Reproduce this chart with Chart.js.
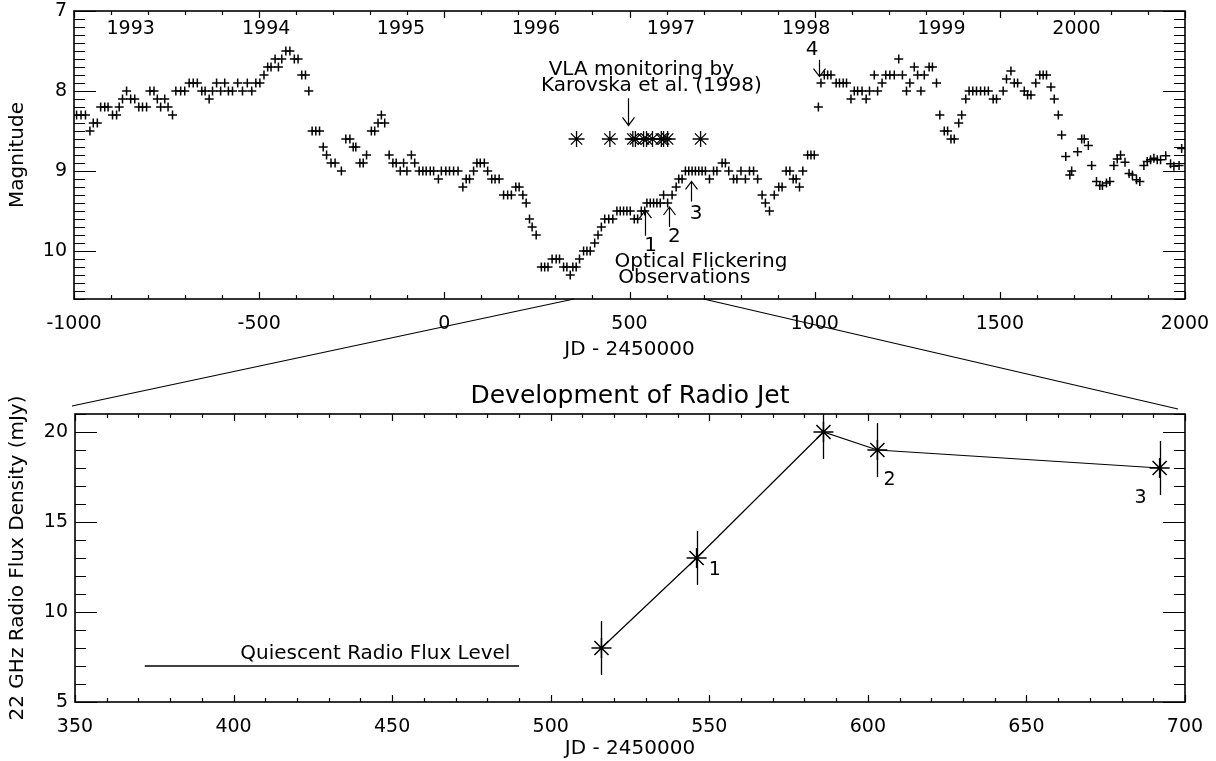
<!DOCTYPE html>
<html><head><meta charset="utf-8">
<script src="https://cdn.jsdelivr.net/npm/chart.js@4.4.1/dist/chart.umd.min.js"></script>
<style>
html,body{margin:0;padding:0;background:#fff;}
#wrap{position:relative;width:1216px;height:761px;overflow:hidden;background:#fff;}
canvas{position:absolute;left:0;}
</style></head><body>
<div id="wrap">
<canvas id="cTop" width="1216" height="365" style="top:0;width:1216px;height:365px"></canvas>
<canvas id="cBot" width="1216" height="396" style="top:365px;width:1216px;height:396px"></canvas>
<canvas id="cOv" width="1216" height="761" style="top:0;width:1216px;height:761px;pointer-events:none"></canvas>
</div>
<script>
// ---------------- DATA ----------------
// Optical light curve (JD - 2450000, magnitude)
const opticalJD = [
-993,-981,-969,-957,-948,-937,-928,-917,-908,-896,-885,-878,-869,-858,-847,-836,-825,-815,-804,-795,
-784,-775,-766,-755,-746,-734,-725,-712,-701,-689,-678,-667,-655,-646,-635,-626,-615,-604,-593,-583,
-572,-558,-545,-532,-520,-509,-498,-487,-477,-468,-457,-448,-439,-428,-417,-405,-395,-385,-375,-366,
-357,-347,-337,-327,-318,-306,-295,-278,-266,-255,-246,-239,-228,-219,-210,
-197,-188,-179,-170,-161,-149,-139,-130,-119,-110,-101,-89,-80,-68,-58,-49,-38,-29,-16,-8,
4,14,25,37,50,59,68,79,88,97,108,117,128,137,148,160,171,181,193,202,
212,221,230,237,248,262,271,280,291,302,311,322,331,340,347,356,365,376,385,394,
406,415,424,433,444,455,466,475,484,493,502,513,522,532,541,
547,556,565,574,583,592,603,615,626,633,642,651,660,669,678,687,696,705,716,727,
736,750,759,768,781,790,801,813,824,835,846,858,867,878,891,903,912,923,933,942,
950,959,968,981,990,999,1010,1017,1026,1035,1044,1058,1067,1077,1086,1098,1107,1116,1128,1139,
1148,1161,1170,1182,1192,1203,1215,1227,
1237,1248,1257,1269,1278,1287,1296,1309,1318,1329,1338,1350,1359,1368,1377,1389,1397,1408,1417,1427,
1437,1448,1459,1469,1482,1491,1509,1518,1530,1539,1548,1566,1575,1584,1597,1608,1617,1626,1638,1647,
1658,1667,1678,1689,1694,1710,1721,1728,1739,1748,1761,1770,1777,1788,1797,1808,1817,1826,1838,1849,
1858,1869,1878,1889,1898,1907,1916,1925,1934,1948,1961,1970,1984,1991];
const opticalMag = [
8.3,8.3,8.3,8.5,8.4,8.4,8.2,8.2,8.2,8.3,8.3,8.2,8.1,8.0,8.1,8.1,8.2,8.2,8.2,8.0,
8.0,8.1,8.2,8.1,8.2,8.3,8.0,8.0,8.0,7.9,7.9,7.9,8.0,8.0,8.1,8.0,7.9,8.0,7.9,8.0,
8.0,7.9,8.0,7.9,8.0,7.9,7.9,7.8,7.7,7.7,7.6,7.7,7.6,7.5,7.5,7.6,7.6,7.8,7.8,8.0,
8.5,8.5,8.5,8.7,8.8,8.9,8.9,9.0,8.6,8.6,8.7,8.7,8.9,8.9,8.8,
8.5,8.5,8.4,8.3,8.4,8.8,8.9,8.9,9.0,8.9,9.0,8.8,8.9,9.0,9.0,9.0,9.0,9.0,9.1,9.0,
9.0,9.0,9.0,9.0,9.2,9.1,9.1,9.0,8.9,8.9,8.9,9.0,9.1,9.1,9.1,9.3,9.3,9.3,9.2,9.2,
9.3,9.4,9.6,9.7,9.8,10.2,10.2,10.2,10.1,10.1,10.1,10.2,10.2,10.3,10.2,10.2,10.1,10.0,10.0,10.0,
9.9,9.8,9.7,9.6,9.6,9.6,9.5,9.5,9.5,9.5,9.5,9.6,9.6,9.5,9.5,
9.4,9.4,9.4,9.4,9.4,9.3,9.4,9.3,9.2,9.1,9.1,9.0,9.0,9.0,9.0,9.0,9.0,9.0,9.1,9.0,
9.0,8.9,8.9,9.0,9.1,9.1,9.0,9.1,9.0,9.0,9.1,9.3,9.4,9.5,9.3,9.2,9.2,9.0,9.0,9.1,
9.1,9.2,9.0,8.8,8.8,8.8,8.2,7.9,7.8,7.8,7.8,7.9,7.9,7.9,7.9,8.1,8.0,8.0,8.0,8.1,
8.0,7.8,8.0,7.9,7.8,7.8,7.8,7.6,
7.8,8.0,7.9,7.7,7.8,8.0,7.8,7.7,7.7,7.9,8.3,8.5,8.5,8.6,8.6,8.4,8.3,8.1,8.0,8.0,
8.0,8.0,8.0,8.0,8.1,8.1,8.0,7.85,7.75,7.9,7.9,8.0,8.05,8.05,7.9,7.8,7.8,7.8,7.95,8.1,
8.3,8.55,8.82,9.05,9.0,8.76,8.6,8.6,8.68,8.93,9.13,9.18,9.18,9.15,9.13,8.93,8.85,8.8,8.89,9.03,
9.05,9.11,9.13,8.93,8.88,8.86,8.84,8.86,8.86,8.81,8.91,8.94,8.93,8.72];
// VLA monitoring epochs shown as asterisks in the upper panel
const vlaJD = [357, 447, 509, 516, 538, 546, 562, 586, 592, 603, 692];
const vlaMag = 8.6;
// Upper panel axis ticks and year labels
const topXTicks = [-1000, -500, 0, 500, 1000, 1500, 2000];
const topYTicks = [7, 8, 9, 10];
const yearLabels = ['1993','1994','1995','1996','1997','1998','1999','2000'];
const yearJD = [-847, -481, -117, 247, 612, 977, 1342, 1707];
// Radio jet (lower panel)
const radioJD = [516, 546, 586, 603, 692];
const radioFlux = [8, 13, 20, 19, 18];
const radioErr = [1.5, 1.5, 1.5, 1.5, 1.5];
const radioTags = ['', '1', '', '2', '3'];
const quiescentJD = [372, 490];
const quiescentFlux = 7;
const botXTicks = [350, 400, 450, 500, 550, 600, 650, 700];
const botYTicks = [5, 10, 15, 20];
const zoomRange = [350, 700];

// ---------------- STYLE / HELPERS ----------------
const FONT = "'DejaVu Sans', sans-serif";
Chart.defaults.font.family = FONT;
Chart.defaults.color = '#000';

function axesPlugin(o) {
  return {
    id: 'idlAxes',
    afterDraw(chart) {
      const {ctx, chartArea: a, scales: {x, y}} = chart;
      ctx.save();
      ctx.strokeStyle = '#000';
      ctx.lineWidth = 1.2;
      ctx.beginPath();
      const nx = Math.round((x.max - x.min) / o.xMinor);
      for (let i = 0; i <= nx; i++) {
        const v = x.min + i * o.xMinor;
        const r = v / o.xMajor;
        const L = Math.abs(r - Math.round(r)) < 1e-6 ? o.xLenMajor : o.xLenMinor;
        const px = Math.round(x.getPixelForValue(v)) + 0.5;
        ctx.moveTo(px, a.bottom); ctx.lineTo(px, a.bottom - L);
        ctx.moveTo(px, a.top); ctx.lineTo(px, a.top + L);
      }
      const ny = Math.round((y.max - y.min) / o.yMinor);
      for (let i = 0; i <= ny; i++) {
        const v = y.min + i * o.yMinor;
        const r = v / o.yMajor;
        const L = Math.abs(r - Math.round(r)) < 1e-6 ? o.yLenMajor : o.yLenMinor;
        const py = Math.round(y.getPixelForValue(v)) + 0.5;
        ctx.moveTo(a.left, py); ctx.lineTo(a.left + L, py);
        ctx.moveTo(a.right, py); ctx.lineTo(a.right - L, py);
      }
      ctx.stroke();
      ctx.lineWidth = 1.6;
      ctx.strokeRect(a.left, a.top, a.right - a.left, a.bottom - a.top);
      ctx.restore();
    }
  };
}

function vArrow(ctx, x, yFrom, yTo) {
  const d = Math.sign(yTo - yFrom);
  ctx.moveTo(x, yFrom); ctx.lineTo(x, yTo);
  ctx.moveTo(x - 6, yTo - d * 8); ctx.lineTo(x, yTo); ctx.lineTo(x + 6, yTo - d * 8);
}

const fitX = h => s => { s.height = h; s.paddingLeft = 0; s.paddingRight = 0; };
const fitY = w => s => { s.width = w; s.paddingTop = 0; s.paddingBottom = 0; };

// ---------------- UPPER PANEL ----------------
const topNotes = [
  {t: 'VLA monitoring by', x: 532, y: 7.74},
  {t: 'Karovska et al. (1998)', x: 559, y: 7.93},
  {t: '4', x: 993, y: 7.48},
  {t: '1', x: 557, y: 9.93},
  {t: '2', x: 621, y: 9.82},
  {t: '3', x: 680, y: 9.53},
  {t: 'Optical Flickering', x: 693, y: 10.13},
  {t: 'Observations', x: 648, y: 10.33}
];
const topArrows = [
  {x: 495, from: 8.09, to: 8.43},
  {x: 1013, from: 7.61, to: 7.82},
  {x: 542, from: 9.81, to: 9.49},
  {x: 608, from: 9.70, to: 9.45},
  {x: 665, from: 9.38, to: 9.13}
];

const topNotesPlugin = {
  id: 'topNotes',
  afterDraw(chart) {
    const {ctx, chartArea: a, scales: {x, y}} = chart;
    ctx.save();
    ctx.fillStyle = '#000';
    ctx.textAlign = 'center';
    ctx.textBaseline = 'middle';
    ctx.font = '19px ' + FONT;
    yearLabels.forEach((t, i) => ctx.fillText(t, x.getPixelForValue(yearJD[i]), a.top + 18));
    ctx.font = '20px ' + FONT;
    topNotes.forEach(n => ctx.fillText(n.t, x.getPixelForValue(n.x), y.getPixelForValue(n.y)));
    ctx.strokeStyle = '#000';
    ctx.lineWidth = 1.2;
    ctx.beginPath();
    topArrows.forEach(r => vArrow(ctx, Math.round(x.getPixelForValue(r.x)) + 0.5, y.getPixelForValue(r.from), y.getPixelForValue(r.to)));
    ctx.stroke();
    ctx.restore();
  }
};

const topChart = new Chart(document.getElementById('cTop'), {
  type: 'scatter',
  data: {
    datasets: [
      {
        data: opticalJD.map((d, i) => ({x: d, y: opticalMag[i]})),
        pointStyle: 'cross', pointRadius: 4.5, pointBorderWidth: 1.5,
        borderColor: '#000', backgroundColor: '#000', showLine: false
      },
      {
        data: vlaJD.map(d => ({x: d, y: vlaMag})),
        pointStyle: 'star', pointRadius: 8, pointBorderWidth: 1.3,
        borderColor: '#000', backgroundColor: '#000', showLine: false
      }
    ]
  },
  options: {
    responsive: false, animation: false, devicePixelRatio: 1,
    layout: {padding: {left: 0, top: 11, right: 31, bottom: 0}},
    plugins: {legend: {display: false}, tooltip: {enabled: false}},
    events: [],
    scales: {
      x: {
        type: 'linear', min: -1000, max: 2000,
        afterBuildTicks: s => { s.ticks = topXTicks.map(v => ({value: v})); },
        afterFit: fitX(66),
        grid: {display: false, drawTicks: false}, border: {display: false},
        ticks: {color: '#000', font: {size: 19}, padding: 14, maxRotation: 0, autoSkip: false, callback: v => String(v)},
        title: {display: true, text: 'JD - 2450000', color: '#000', font: {size: 20}, padding: {top: 0, bottom: 3}}
      },
      y: {
        type: 'linear', min: 7, max: 10.6, reverse: true,
        afterBuildTicks: s => { s.ticks = topYTicks.map(v => ({value: v})); },
        afterFit: fitY(74),
        grid: {display: false, drawTicks: false}, border: {display: false},
        ticks: {color: '#000', font: {size: 19}, padding: 7, callback: v => String(v)},
        title: {display: true, text: 'Magnitude', color: '#000', font: {size: 20}, padding: {top: 6, bottom: 0}}
      }
    }
  },
  plugins: [axesPlugin({xMinor: 100, xMajor: 500, xLenMajor: 7, xLenMinor: 4,
                        yMinor: 0.1, yMajor: 1, yLenMajor: 22, yLenMinor: 11}), topNotesPlugin]
});

// ---------------- LOWER PANEL ----------------
const botNotes = [
  {t: 'Quiescent Radio Flux Level', x: 444.7, y: 7.7}
];

const botNotesPlugin = {
  id: 'botNotes',
  afterDatasetsDraw(chart) {
    const {ctx, chartArea: a, scales: {x, y}} = chart;
    ctx.save();
    ctx.beginPath();
    ctx.rect(a.left, a.top, a.right - a.left, a.bottom - a.top);
    ctx.clip();
    ctx.strokeStyle = '#000';
    ctx.lineWidth = 1.3;
    ctx.beginPath();
    radioJD.forEach((d, i) => {
      const px = Math.round(x.getPixelForValue(d)) + 0.5;
      ctx.moveTo(px, y.getPixelForValue(radioFlux[i] - radioErr[i]));
      ctx.lineTo(px, y.getPixelForValue(radioFlux[i] + radioErr[i]));
    });
    ctx.stroke();
    ctx.restore();

    ctx.save();
    ctx.fillStyle = '#000';
    ctx.textAlign = 'center';
    ctx.textBaseline = 'middle';
    ctx.font = '20px ' + FONT;
    botNotes.forEach(n => ctx.fillText(n.t, x.getPixelForValue(n.x), y.getPixelForValue(n.y)));
    ctx.font = '19px ' + FONT;
    const tagOffsets = {'1': [5.7, -0.65], '2': [3.8, -1.65], '3': [-6, -1.65]};
    radioTags.forEach((t, i) => {
      if (!t) return;
      const o = tagOffsets[t];
      ctx.fillText(t, x.getPixelForValue(radioJD[i] + o[0]), y.getPixelForValue(radioFlux[i] + o[1]));
    });
    ctx.font = '25px ' + FONT;
    ctx.fillText('Development of Radio Jet', (a.left + a.right) / 2, a.top - 18);
    ctx.restore();
  }
};

const botChart = new Chart(document.getElementById('cBot'), {
  type: 'scatter',
  data: {
    datasets: [
      {
        data: radioJD.map((d, i) => ({x: d, y: radioFlux[i]})),
        showLine: true, borderColor: '#000', borderWidth: 1.2,
        pointStyle: 'star', pointRadius: 10, pointBorderWidth: 1.5,
        backgroundColor: '#000', pointBorderColor: '#000'
      },
      {
        data: quiescentJD.map(d => ({x: d, y: quiescentFlux})),
        showLine: true, borderColor: '#000', borderWidth: 1.3, pointRadius: 0
      }
    ]
  },
  options: {
    responsive: false, animation: false, devicePixelRatio: 1,
    layout: {padding: {left: 0, top: 49, right: 31, bottom: 0}},
    plugins: {legend: {display: false}, tooltip: {enabled: false}},
    events: [],
    scales: {
      x: {
        type: 'linear', min: 350, max: 700,
        afterBuildTicks: s => { s.ticks = botXTicks.map(v => ({value: v})); },
        afterFit: fitX(59),
        grid: {display: false, drawTicks: false}, border: {display: false},
        ticks: {color: '#000', font: {size: 19}, padding: 14, maxRotation: 0, autoSkip: false, callback: v => String(v)},
        title: {display: true, text: 'JD - 2450000', color: '#000', font: {size: 20}, padding: {top: 0, bottom: 0}}
      },
      y: {
        type: 'linear', min: 5, max: 21,
        afterBuildTicks: s => { s.ticks = botYTicks.map(v => ({value: v})); },
        afterFit: fitY(75),
        grid: {display: false, drawTicks: false}, border: {display: false},
        ticks: {color: '#000', font: {size: 19}, padding: 7, callback: v => String(v)},
        title: {display: true, text: '22 GHz Radio Flux Density (mJy)', color: '#000', font: {size: 20}, padding: {top: 6, bottom: 0}}
      }
    }
  },
  plugins: [axesPlugin({xMinor: 10, xMajor: 50, xLenMajor: 7, xLenMinor: 4,
                        yMinor: 1, yMajor: 5, yLenMajor: 22, yLenMinor: 11}), botNotesPlugin]
});

// ---------------- ZOOM CONNECTOR LINES ----------------
(function drawConnectors() {
  const ov = document.getElementById('cOv').getContext('2d');
  const botTop = 365;
  const ta = topChart.chartArea, ba = botChart.chartArea;
  const x1 = topChart.scales.x.getPixelForValue(zoomRange[0]);
  const x2 = topChart.scales.x.getPixelForValue(zoomRange[1]);
  ov.strokeStyle = '#000';
  ov.lineWidth = 1.2;
  ov.beginPath();
  ov.moveTo(x1, ta.bottom); ov.lineTo(ba.left - 3, botTop + ba.top - 8);
  ov.moveTo(x2, ta.bottom); ov.lineTo(ba.right - 7, botTop + ba.top - 5);
  ov.stroke();
})();
</script>
</body></html>
